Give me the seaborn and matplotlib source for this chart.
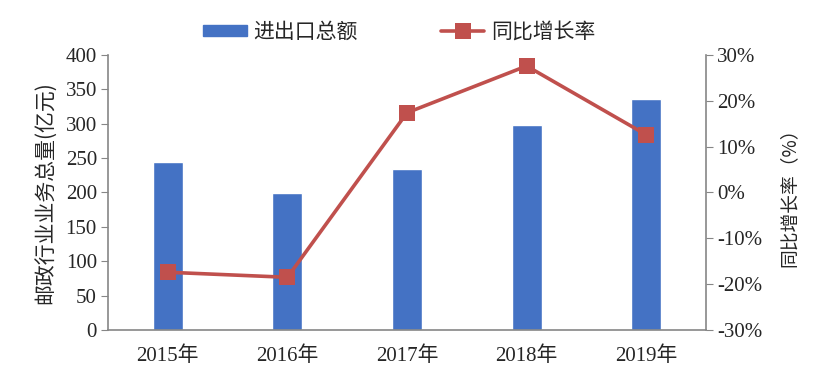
import numpy as np
import pandas as pd
import seaborn as sns
import matplotlib.pyplot as plt
from matplotlib.lines import Line2D
from matplotlib.patches import Patch

# 数据
years = ['2015年', '2016年', '2017年', '2018年', '2019年']
total = [244, 199, 234, 298, 336]          # 进出口总额（亿元）
growth = [-17.4, -18.5, 17.4, 27.6, 12.6]  # 同比增长率（%）

sns.set_style('white')
plt.rcParams['font.family'] = ['Liberation Serif', 'Noto Sans CJK SC']
plt.rcParams['axes.unicode_minus'] = False

bar_color = '#4472C4'
line_color = '#C0504D'
spine_color = '#868686'
cjk = ['Noto Sans CJK SC', 'DejaVu Sans']

df = pd.DataFrame({'year': years, 'total': total, 'growth': growth})

fig = plt.figure(figsize=(8.27, 3.84), dpi=100)
ax = fig.add_axes([0.1306, 0.1406, 0.7231, 0.7162])
sns.barplot(data=df, x='year', y='total', color=bar_color, width=0.25,
            saturation=1, ax=ax)
ax.set_xlim(-0.5, 4.5)
ax.set_ylim(0, 400)
ax.set_yticks(range(0, 401, 50))
ax.set_xlabel('')
ax.set_ylabel('邮政行业业务总量(亿元)', family=cjk, fontsize=15, labelpad=7)

ax2 = ax.twinx()
sns.lineplot(x=np.arange(len(years)), y=df['growth'], color=line_color,
             linewidth=2.6, marker='s', markersize=11, markeredgewidth=0,
             ax=ax2)
ax2.set_ylim(-30, 30)
ax2.set_yticks(range(-30, 31, 10))
ax2.set_yticklabels([f'{v}%' for v in range(-30, 31, 10)])
ax2.set_ylabel('同比增长率（%）', family=cjk, fontsize=13.5, labelpad=12)

# 坐标轴样式
for a in (ax, ax2):
    for s in a.spines.values():
        s.set_visible(False)
    a.tick_params(axis='y', labelsize=15, length=5, color=spine_color,
                  direction='out', pad=3)
ax.spines['left'].set_visible(True)
ax.spines['bottom'].set_visible(True)
ax2.spines['right'].set_visible(True)
for s in (ax.spines['left'], ax.spines['bottom'], ax2.spines['right']):
    s.set_color(spine_color)
    s.set_linewidth(1.2)

ax.set_xticks(np.arange(len(years)))
ax.set_xticklabels(years, fontsize=15)
ax.set_xticks(np.arange(-0.5, 4.6, 1), minor=True)
ax.tick_params(axis='x', which='major', length=0, pad=12)
ax.tick_params(axis='x', which='minor', length=6, color=spine_color,
               direction='out')

# 图例
handles = [Patch(color=bar_color, label='进出口总额'),
           Line2D([], [], color=line_color, linewidth=2.6, marker='s',
                  markersize=11, markeredgewidth=0, label='同比增长率')]
fig.legend(handles=handles, loc='center', bbox_to_anchor=(0.4825, 0.917),
           ncol=2, frameon=False, prop={'family': cjk, 'size': 15},
           handlelength=2.1, handleheight=0.45, handletextpad=0.3,
           columnspacing=4)

fig.savefig('out.png', dpi=100)
